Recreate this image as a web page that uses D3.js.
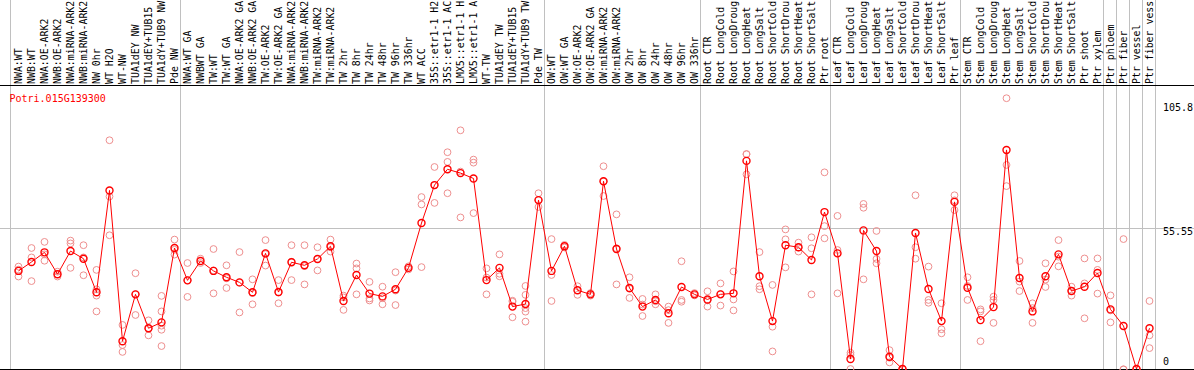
<!DOCTYPE html>
<html><head><meta charset="utf-8">
<script src="https://cdn.jsdelivr.net/npm/d3@7/dist/d3.min.js"></script>
<style>
html,body{margin:0;padding:0;background:#fff;}
svg{display:block;}
text{font-family:"DejaVu Sans Mono",monospace;font-size:10px;}
</style></head>
<body>
<svg id="chart" width="1194" height="370"></svg>
<script>
const title = "Potri.015G139300";
const categories = [
"NWA:WT","NWB:WT","NWA:OE-ARK2","NWB:OE-ARK2","NWA:miRNA-ARK2","NWB:miRNA-ARK2","NW 0hr","WT H2O","WT-NW","TUA1dEY NW","TUA1dEY+TUB15 NW","TUA1dY+TUB9 NW","Pde NW",
"NWA:WT GA","NWBWT GA","TW:WT","TW:WT GA","NWA:OE-ARK2 GA","NWB:OE-ARK2 GA","TW:OE-ARK2","TW:OE-ARK2 GA","NWA:miRNA-ARK2 GA","NWB:miRNA-ARK2 GA","TW:miRNA-ARK2","TW:miRNA-ARK2 GA","TW 2hr","TW 8hr","TW 24hr","TW 48hr","TW 96hr","TW 336hr","WT ACC","35S::etr1-1 H2O","35S::etr1-1 ACC","LMX5::etr1-1 H2O","LMX5::etr1-1 ACC","WT-TW","TUA1dEY TW","TUA1dEY+TUB15 TW","TUA1dY+TUB9 TW","Pde TW",
"OW:WT","OW:WT GA","OW:OE-ARK2","OW:OE-ARK2 GA","OW:miRNA-ARK2","OW:miRNA-ARK2 GA","OW 2hr","OW 8hr","OW 24hr","OW 48hr","OW 96hr","OW 336hr",
"Root CTR","Root LongCold","Root LongDrought","Root LongHeat","Root LongSalt","Root ShortCold","Root ShortDrought","Root ShortHeat","Root ShortSalt","Ptr root",
"Leaf CTR","Leaf LongCold","Leaf LongDrought","Leaf LongHeat","Leaf LongSalt","Leaf ShortCold","Leaf ShortDrought","Leaf ShortHeat","Leaf ShortSalt","Ptr leaf",
"Stem CTR","Stem LongCold","Stem LongDrought","Stem LongHeat","Stem LongSalt","Stem ShortCold","Stem ShortDrought","Stem ShortHeat","Stem ShortSalt","Ptr shoot","Ptr xylem",
"Ptr phloem","Ptr fiber","Ptr vessel","Ptr fiber vessel"
];
const meanValues = [
38.7,42.2,46.0,37.4,46.5,43.5,30.3,70.3,11.1,29.5,16.2,18.5,47.7,
35.0,42.6,38.7,36.2,34.2,30.3,45.6,30.4,42.1,40.9,43.4,48.4,26.9,37.1,29.8,28.7,31.5,39.9,57.5,72.4,78.6,77.1,75.0,35.1,39.9,24.7,25.7,66.5,
38.7,48.4,31.1,29.5,73.9,47.3,32.0,24.7,27.3,22.1,32.4,29.5,
27.5,29.5,29.9,81.9,36.6,19.0,48.8,48.0,43.0,61.8,
45.6,4.1,54.6,46.5,5.0,0.2,53.6,31.6,19.0,65.8,
32.1,19.4,24.5,86.2,35.9,22.8,36.6,45.2,30.8,32.5,37.9,
23.6,17.1,0.2,16.2
];
const replicateValues = [
[40.4,36.5,39.2],[47.7,44.0,34.7],[50.1,45.2,42.7],[38.4,36.5,37.4],[50.6,49.5,39.9],[48.8,44.0,37.0],[39.1,31.5,29.0,22.8],[90.0,67.9,52.7],[17.5,9.6,6.9],[37.8,21.4,29.5],[19.3,16.0,13.4],[28.9,22.8,17.2,15.6,9.2],[51.0,47.0,45.1],
[41.8,28.5,35.0],[43.5,41.8],[47.3,29.9,38.9],[40.9,32.0,35.8],[46.1,22.4,34.1],[35.4,25.6,30.0],[50.8,40.8,45.3],[35.1,26.0,30.2],[48.8,35.1,42.3],[48.8,33.4,40.6],[48.0,38.9,43.4],[51.0,46.3,48.0],[29.0,23.4,28.3],[41.6,39.7,29.5],[34.4,27.9,27.1],[32.5,25.6,28.0],[38.2,25.3,31.0],[40.5,39.3],[67.7,64.8,40.2],[79.5,65.4,72.3],[85.3,81.5,69.2],[93.9,59.7,77.7],[82.4,81.2,61.4],[39.7,29.5,36.1],[45.2,37.6,36.6],[26.6,20.5,27.0],[32.8,29.3,24.1,22.7,18.8],[69.2,63.8,66.5],
[51.2,37.1,26.9],[48.9,47.9],[32.7,29.3],[30.0,29.0],[79.8,68.1,73.8],[60.9,33.4,47.6],[36.2,28.1,31.7],[27.7,25.5,21.0],[29.5,25.6,26.8],[24.7,18.3,23.3],[42.5,27.3,26.6],[30.0,29.1],
[30.7,24.7,27.1],[33.8,25.1,29.6],[38.5,27.5,23.2],[84.5,76.6,84.6],[46.1,32.7,31.5],[33.2,16.8,7.1],[55.0,51.1,40.1],[49.8,46.3,47.9],[51.9,47.6,29.5],[77.4,56.3,51.5],
[60.3,46.9,29.9],[6.6,5.7,0.2],[65.0,63.5,35.4],[54.4,43.4,41.7],[7.6,2.8,4.6],[0.3,0.1],[68.4,48.0,43.5],[40.4,27.3,26.2],[26.0,15.8,14.2],[68.4,62.6,66.4],
[36.2,27.3,32.8],[23.6,22.8,11.1],[28.6,27.3,18.3],[106.5,80.3,72.0],[42.6,34.5,30.8],[26.0,18.3,24.1],[41.7,35.3,32.4],[50.8,40.5,44.3],[32.5,29.0,30.9],[43.6,20.1,33.8],[43.6,39.1,29.8],
[29.1,18.5,23.2],[51.2,0.1,0.0],[0.2,0.2],[26.9,13.4,8.4]
];
const yTickValues = [105.8, 55.55, 0];
const gridValues = [55.55];
// indices of category boundaries where a grey separator is drawn
const groupBoundaries = [13, 41, 53, 63, 73, 84, 85, 86, 87, 88];
const labelMaxChars = 14; // the header band only shows this many characters

const W = 1194, H = 370;
const svg = d3.select("#chart");

const x = d3.scaleBand().domain(categories).range([12, 12 + 13 * categories.length]).padding(0);
const cx = c => x(c) + x.bandwidth() / 2;
const y = d3.scaleLinear().domain([0, 105.8]).range([369.5, 100]);

const plotTop = 85.5, plotBottom = 369.5;
const grey = "#c0c0c0";

// horizontal grid line(s)
svg.selectAll("line.grid").data(gridValues).join("line")
  .attr("x1", 0).attr("x2", W)
  .attr("y1", d => Math.round(y(d)) + 0.5).attr("y2", d => Math.round(y(d)) + 0.5)
  .attr("stroke", grey).attr("stroke-width", 1);

// vertical separators
svg.append("line").attr("x1", x.range()[0] - 1.5).attr("x2", x.range()[0] - 1.5)
  .attr("y1", 0).attr("y2", H).attr("stroke", grey);
svg.selectAll("line.sep").data(groupBoundaries).join("line")
  .attr("x1", k => x.range()[0] + k * x.step() - 0.5)
  .attr("x2", k => x.range()[0] + k * x.step() - 0.5)
  .attr("y1", 0).attr("y2", H).attr("stroke", grey);

// top and bottom frame lines
svg.append("line").attr("x1", 0).attr("x2", W).attr("y1", plotTop).attr("y2", plotTop).attr("stroke", "#000");
svg.append("line").attr("x1", 0).attr("x2", W).attr("y1", plotBottom).attr("y2", plotBottom).attr("stroke", "#000");

// category labels (rotated, truncated to what fits in the header band)
svg.selectAll("text.cat").data(categories).join("text")
  .attr("transform", c => `translate(${cx(c)},84) rotate(-90)`)
  .attr("dy", "0.36em")
  .attr("text-anchor", "start")
  .style("font-size", "9.9px")
  .attr("fill", "#000")
  .text(c => c.length > labelMaxChars ? c.slice(0, labelMaxChars).trimEnd() : c);

// title
svg.append("text").attr("x", 9.5).attr("y", 101.5).attr("fill", "#ff0000").text(title);

// y tick labels
svg.selectAll("text.ytick").data(yTickValues).join("text")
  .attr("x", 1163)
  .attr("y", d => Math.min(Math.max(y(d), 104), 358))
  .attr("dominant-baseline", "hanging")
  .attr("fill", "#000")
  .text(d => d);

// replicate points
const reps = [];
replicateValues.forEach((arr, i) => arr.forEach(v => reps.push({c: categories[i], v})));
svg.append("g").selectAll("circle").data(reps).join("circle")
  .attr("cx", d => cx(d.c)).attr("cy", d => y(d.v)).attr("r", 3.4)
  .attr("fill", "none").attr("stroke", "#ee8f8f").attr("stroke-width", 1);

// mean line
const line = d3.line().x((d, i) => cx(categories[i])).y(d => y(d));
svg.append("path").datum(meanValues).attr("d", line)
  .attr("fill", "none").attr("stroke", "#ff0000").attr("stroke-width", 1);

// mean points
svg.append("g").selectAll("circle").data(meanValues).join("circle")
  .attr("cx", (d, i) => cx(categories[i])).attr("cy", d => y(d)).attr("r", 3.5)
  .attr("fill", "none").attr("stroke", "#ff0000").attr("stroke-width", 1.4);
</script>
</body></html>
